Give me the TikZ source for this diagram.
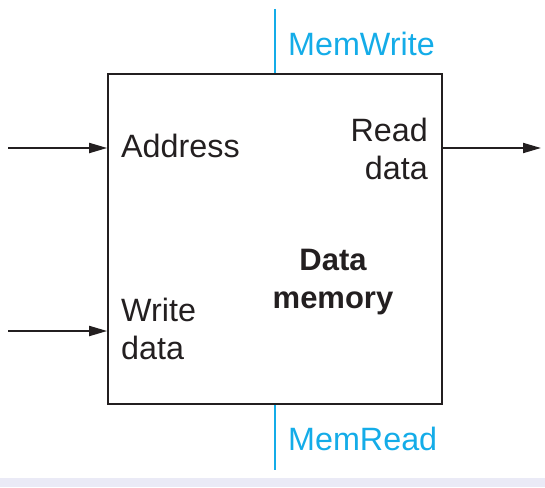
\documentclass[tikz,border=0pt]{standalone}
\usepackage{fontspec}
\setmainfont{Liberation Sans}
\usetikzlibrary{arrows.meta}
\definecolor{ctrlblue}{RGB}{20,172,232}
\definecolor{inkgray}{RGB}{35,31,32}
\definecolor{bandcolor}{RGB}{234,234,246}

\begin{document}
\begin{tikzpicture}[x=1pt,y=-1pt,
    font=\fontsize{32.3}{38}\selectfont,
    >={Triangle[length=18pt,width=10pt]},
    wire/.style={draw=inkgray,line width=1.9pt},
    ctrl/.style={draw=ctrlblue,line width=1.5pt},
    lbl/.style={inner sep=0pt,text=inkgray}]
		% Data memory block
		\useasboundingbox (0,0) rectangle (545,487);
		\fill[bandcolor] (0,478) rectangle (545,487);
		\node[draw=inkgray,line width=1.7pt,minimum width=334pt,minimum height=330pt,inner sep=0pt] (mem) at (275,239) {};
		
		\node[lbl,anchor=base west] (addr) at (121,157) {Address};
		\node[lbl,anchor=north west,align=left] (wdata) at (121,298) {Write\\data};
		\node[lbl,anchor=north east,align=right] (rdata) at (428,118) {Read\\data};
		\node[lbl,anchor=north,align=center,font=\fontsize{31}{38}\selectfont\bfseries] (name) at (333,249) {Data\\memory};
		\node[lbl,anchor=base west,text=ctrlblue] (mwrite) at (288,56) {MemWrite};
		\node[lbl,anchor=base west,text=ctrlblue] (mread) at (288,450) {MemRead};
		
		\coordinate (addrin) at (8,148);
		\coordinate (wdatain) at (8,331);
		\coordinate (rdataout) at (541,148);
		\coordinate (mwtop) at (275,9);
		\coordinate (mrbot) at (275,470);
		
		\draw[wire,->] (addrin) to (addrin -| mem.west);
		\draw[wire,->] (wdatain) to (wdatain -| mem.west);
		\draw[wire,->] (rdataout -| mem.east) to (rdataout);
		\draw[ctrl] (mwtop) to (mem.north);
		\draw[ctrl] (mem.south) to (mrbot);
		
		\end{tikzpicture}
\end{document}
